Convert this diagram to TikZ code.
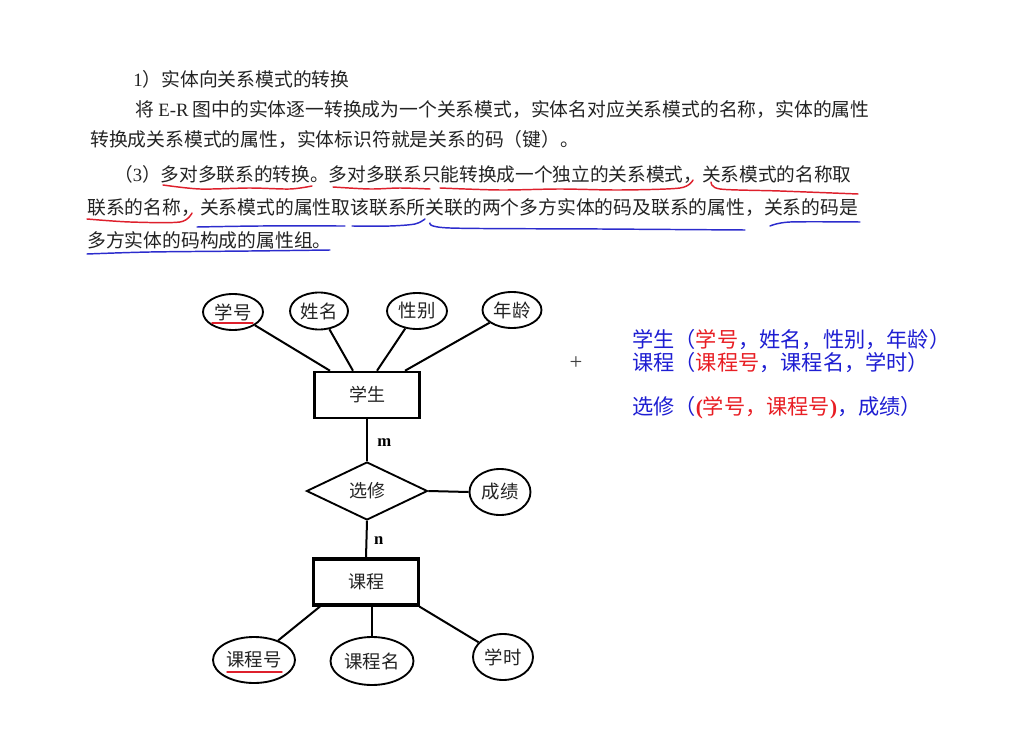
\documentclass[tikz,border=0pt]{standalone}
\usepackage{fontspec}
\setmainfont{Liberation Serif}
\newfontfamily\cjk{Noto Sans CJK SC}
\usetikzlibrary{shapes.geometric}
\definecolor{ured}{RGB}{222,32,44}
\definecolor{ublue}{RGB}{44,44,205}
\definecolor{tblue}{RGB}{30,30,210}
\definecolor{tred}{RGB}{232,30,36}
\definecolor{txt}{RGB}{35,35,35}
\tikzset{
  body/.style={anchor=west, inner sep=0pt, text=txt, font=\cjk\fontsize{14.1}{17}\selectfont},
  schema/.style={anchor=west, inner sep=0pt, text=tblue, font=\cjk\fontsize{15.9}{18}\selectfont},
  attr/.style={ellipse, draw, line width=1.4pt, inner sep=0pt, text=txt, font=\cjk\fontsize{13.8}{16}\selectfont},
  ent/.style={rectangle, draw, line width=1.9pt, minimum width=78.75pt, minimum height=34.5pt, inner sep=0pt, text=txt, font=\cjk\fontsize{13.5}{16}\selectfont},
  rel/.style={diamond, draw, line width=1.4pt, minimum width=90.75pt, minimum height=43.5pt, inner sep=0pt, aspect=2, text=txt, font=\cjk\fontsize{13.5}{16}\selectfont},
  conn/.style={line width=1.5pt},
  card/.style={inner sep=0pt, font=\bfseries\fontsize{12.5}{14}\selectfont},
  ul/.style={line width=1.1pt, line cap=round},
}
\begin{document}
\begin{tikzpicture}[x=0.75pt,y=-0.75pt]
\useasboundingbox (0,0) rectangle (1028,738);

% ---- text block ----
\node[body] (l1) at (133,79) {{\rmfamily 1}）实体向关系模式的转换};
\node[body] (l2) at (135,110) {将 {\rmfamily E-R} 图中的实体逐一转换成为一个关系模式，实体名对应关系模式的名称，实体的属性};
\node[body] (l3) at (90,139) {转换成关系模式的属性，实体标识符就是关系的码（键）。};
\node[body, font=\cjk\fontsize{14.0}{17}\selectfont] (l4) at (114,175) {（{\rmfamily 3}）多对多联系的转换。多对多联系只能转换成一个独立的关系模式，关系模式的名称取};
\node[body] (l5) at (87,208) {联系的名称，关系模式的属性取该联系所关联的两个多方实体的码及联系的属性，关系的码是};
\node[body] (l6) at (87,240) {多方实体的码构成的属性组。};

% underlines
\draw[ul, ured] plot[smooth] coordinates {(163,185) (200,189) (250,188) (290,189) (312,186)};
\draw[ul, ured] plot[smooth] coordinates {(333,187) (370,189) (400,188) (430,189)};
\draw[ul, ured] plot[smooth] coordinates {(440,188) (500,190) (560,189) (620,190) (680,188) (693,180)};
\draw[ul, ured] plot[smooth] coordinates {(711,182) (720,189) (780,191) (858,194)};
\draw[ul, ured] plot[smooth] coordinates {(87,219) (130,222) (180,222) (192,213)};
\draw[ul, ublue] plot[smooth] coordinates {(197,227) (260,226) (345,226)};
\draw[ul, ublue] plot[smooth] coordinates {(352,226) (390,226) (415,224) (425,219)};
\draw[ul, ublue] plot[smooth] coordinates {(430,223) (450,228) (600,229) (745,230)};
\draw[ul, ublue] plot[smooth] coordinates {(770,226) (790,222) (860,222)};
\draw[ul, ublue] plot[smooth] coordinates {(87,254) (150,252) (250,251) (330,250)};

% ---- ER diagram ----
\node[ent] (xs) at (367,395) {学生};
\node[ent, line width=2.3pt] (kc) at (366,582) {课程};
\node[rel] (xx) at (367,491) {选修};

\node[attr, minimum width=45pt, minimum height=27pt] (xh) at (233,312) {学号};
\node[attr, minimum width=43.5pt, minimum height=27.75pt] (xm) at (319,311) {姓名};
\node[attr, minimum width=45pt, minimum height=27pt] (xb) at (417,311) {性别};
\node[attr, minimum width=44.25pt, minimum height=27pt] (nl) at (512,310) {年龄};
\node[attr, minimum width=45.75pt, minimum height=34.5pt] (cj) at (500,492) {成绩};
\node[attr, minimum width=61.5pt, minimum height=34.5pt] (kh) at (254,660) {课程号};
\node[attr, minimum width=62.25pt, minimum height=36pt] (km) at (372,661) {课程名};
\node[attr, minimum width=45pt, minimum height=34.5pt] (xt) at (503,657) {学时};

\draw[ul, ured] (xh.center) ++(-21,11) coordinate (a1) -- ++(41,0) coordinate (a2);
\draw[ul, ured] (kh.center) ++(-27,12) coordinate (b1) -- ++(55,0) coordinate (b2);

\draw[conn] (xh) -- ([xshift=-27.75pt]xs.north);
\draw[conn] (xm) -- ([xshift=-10.5pt]xs.north);
\draw[conn] (xb) -- ([xshift=7.5pt]xs.north);
\draw[conn] (nl) -- ([xshift=28.5pt]xs.north);

\draw[conn] (xs.south) -- (xx.north) node[card, pos=0.55, right=7pt] (m) {m};
\draw[conn] (xx.south) -- (kc.north) node[card, pos=0.55, right=5pt] (n) {n};
\draw[conn] (xx.east) -- (cj.west);

\draw[conn] (kh) -- ([xshift=-34.5pt]kc.south);
\draw[conn] ([xshift=4.5pt]kc.south) -- (km);
\draw[conn] (xt) -- ([xshift=-0.5pt]kc.south east);

% ---- relational schemas ----
\node[text=black!75, inner sep=0pt, font=\fontsize{17}{17}\selectfont] (plus) at (576,363) {+};
\node[schema] (s1) at (632,340) {学生（\textcolor{tred}{学号}，姓名，性别，年龄）};
\node[schema] (s2) at (632,363) {课程（\textcolor{tred}{课程号}，课程名，学时）};
\node[schema] (s3) at (632,408) {选修（\textcolor{tred}{{\rmfamily\bfseries(}学号，课程号{\rmfamily\bfseries)}}，成绩）};
\end{tikzpicture}
\end{document}
